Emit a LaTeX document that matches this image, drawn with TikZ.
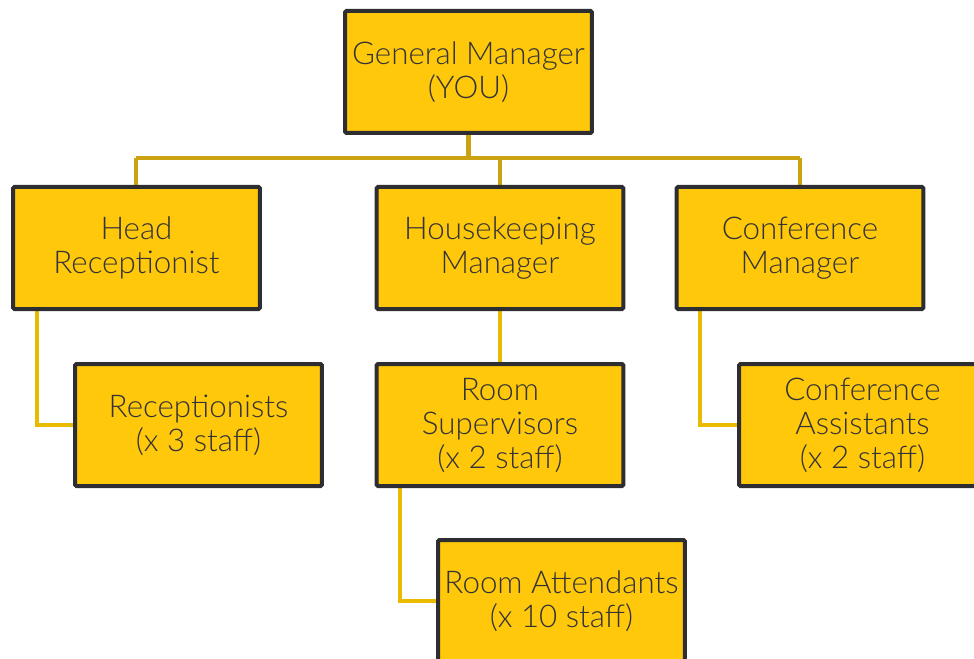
\documentclass[tikz,border=0pt]{standalone}
\usepackage{fontspec}
\setmainfont{Lato Light}
\usetikzlibrary{positioning,backgrounds}
\definecolor{boxfill}{RGB}{255,200,10}
\definecolor{boxline}{RGB}{45,45,50}
\definecolor{bus}{RGB}{203,162,18}
\definecolor{link}{RGB}{232,186,0}
\definecolor{ink}{RGB}{50,50,55}

\begin{document}
\begin{tikzpicture}[x=0.75pt,y=-0.75pt,node distance=132.75pt]
  \tikzstyle{post}=[rectangle,draw=boxline,line width=3pt,fill=boxfill,
                    rounded corners=1pt,minimum width=185pt,minimum height=91.5pt,
                    align=center,text=ink,font=\fontsize{23.5}{25.5}\selectfont]
  \tikzstyle{bus line}=[draw=bus,line width=3.6pt]
  \tikzstyle{sub line}=[draw=link,line width=3pt]
  \clip (0,0) rectangle (974,659);
  \useasboundingbox (0,0) rectangle (974,659);
  \node [post] (gm) at (468.5,72) {General Manager\\(YOU)};
  \node [post] (hr) at (136.5,248) {Head\\Receptionist};
  \node [post] (hk) at (500,248) {Housekeeping\\Manager};
  \node [post] (cm) at (800,248) {Conference\\Manager};
  \node [post] (rc) at (198.5,425) {Receptionists\\(x 3 staff)};
  \node [post] (rs) [below of=hk] {Room\\Supervisors\\(x 2 staff)};
  \node [post] (ca) at (862.5,425) {Conference\\Assistants\\(x 2 staff)};
  \node [post] (ra) at (561.5,601) {Room Attendants\\(x 10 staff)};
  % connectors go under the boxes
  \begin{pgfonlayer}{background}
    \coordinate (busl) at (136,158);
    \coordinate (busr) at (800,158);
    \draw [bus line] (gm.south) -- (gm.south |- busl);
    \draw [bus line] (busl) -- (busr);
    \draw [bus line] (busl) -- (busl |- hr.north);
    \draw [bus line] (hk.north |- busl) -- (hk.north);
    \draw [bus line] (busr) -- (busr |- cm.north);
    \draw [sub line] ([xshift=19.5pt]hr.south west) |- (rc.west);
    \draw [sub line] (hk.south) -- (rs.north);
    \draw [sub line] ([xshift=18.75pt]cm.south west) |- (ca.west);
    \draw [sub line] ([xshift=18.75pt]rs.south west) |- (ra.west);
  \end{pgfonlayer}
\end{tikzpicture}
\end{document}
